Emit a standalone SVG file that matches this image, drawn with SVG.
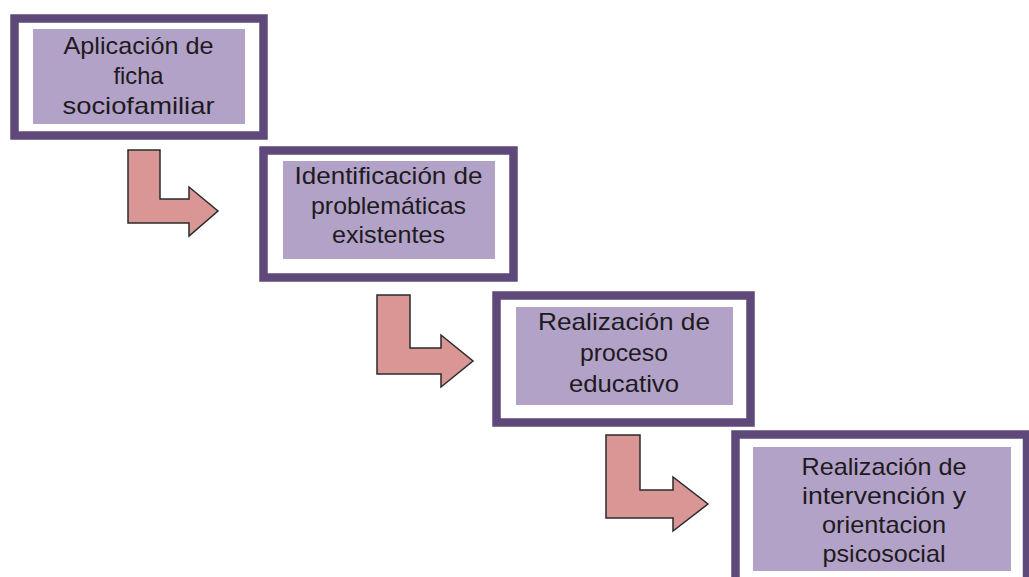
<svg xmlns="http://www.w3.org/2000/svg" width="1029" height="577" viewBox="0 0 1029 577">
<style>
.frame{fill:#ffffff;stroke:#5f497a;stroke-width:8.5}
.inner{fill:#b2a2c7}
.lbl{font-family:"Liberation Sans",Arial,sans-serif;font-size:24px;fill:#1e1a1e;text-anchor:middle}
.arrow{fill:#d99694;stroke:#2b2b2b;stroke-width:1.5;stroke-linejoin:miter}
</style>
<rect width="1029" height="577" fill="#ffffff"/>
<g id="connectors">
<path class="arrow" d="M128,150 H160 V199 H189 V187 L218,211 L189,236 V223 H128 Z"/>
<path class="arrow" d="M377,295 H410 V348 H441 V335 L473,361 L441,387 V374 H377 Z"/>
<path class="arrow" d="M606,435 H640 V490 H673 V477 L708,504 L673,531 V518 H606 Z"/>
</g>
<g id="node1">
<rect class="frame" x="14.5" y="18.5" width="249" height="117"/>
<rect class="inner" x="33" y="29" width="212" height="95"/>
<text class="lbl" x="138.5" y="54" textLength="150" lengthAdjust="spacingAndGlyphs">Aplicación de</text>
<text class="lbl" x="138.5" y="84" textLength="50" lengthAdjust="spacingAndGlyphs">ficha</text>
<text class="lbl" x="138.5" y="114" textLength="152" lengthAdjust="spacingAndGlyphs">sociofamiliar</text>
</g>
<g id="node2">
<rect class="frame" x="263.5" y="150.5" width="250" height="127"/>
<rect class="inner" x="283" y="161" width="212" height="98"/>
<text class="lbl" x="388.5" y="184" textLength="188" lengthAdjust="spacingAndGlyphs">Identificación de</text>
<text class="lbl" x="388.5" y="214" textLength="155" lengthAdjust="spacingAndGlyphs">problemáticas</text>
<text class="lbl" x="388.5" y="243" textLength="113" lengthAdjust="spacingAndGlyphs">existentes</text>
</g>
<g id="node3">
<rect class="frame" x="496.5" y="295.5" width="254" height="127"/>
<rect class="inner" x="516" y="307" width="217" height="98"/>
<text class="lbl" x="624" y="330" textLength="172" lengthAdjust="spacingAndGlyphs">Realización de</text>
<text class="lbl" x="624" y="361" textLength="88" lengthAdjust="spacingAndGlyphs">proceso</text>
<text class="lbl" x="624" y="392" textLength="110" lengthAdjust="spacingAndGlyphs">educativo</text>
</g>
<g id="node4">
<rect class="frame" x="735.5" y="434.5" width="291.5" height="200"/>
<rect class="inner" x="753" y="447" width="258" height="124"/>
<text class="lbl" x="884" y="475" textLength="165" lengthAdjust="spacingAndGlyphs">Realización de</text>
<text class="lbl" x="884" y="504" textLength="164" lengthAdjust="spacingAndGlyphs">intervención y</text>
<text class="lbl" x="884" y="533" textLength="124" lengthAdjust="spacingAndGlyphs">orientacion</text>
<text class="lbl" x="884" y="562" textLength="123" lengthAdjust="spacingAndGlyphs">psicosocial</text>
</g>
</svg>
